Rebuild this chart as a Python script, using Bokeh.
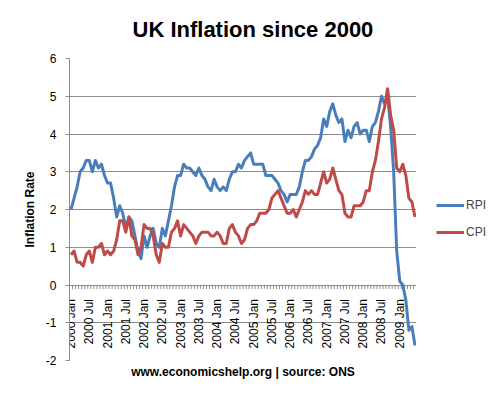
import math
from bokeh.plotting import figure
from bokeh.layouts import row
from bokeh.models import Range1d, FixedTicker, Legend, LegendItem
from bokeh.core.properties import value
from bokeh.embed import file_html
from bokeh.resources import INLINE

# Monthly annual inflation rates, Jan 2000 - Jun 2009
rpi = [2.0, 2.3, 2.6, 3.0, 3.1, 3.3, 3.3, 3.0, 3.3, 3.1, 3.2, 2.9,
       2.7, 2.7, 2.3, 1.8, 2.1, 1.9, 1.5, 1.8, 1.7, 1.3, 0.9, 0.7,
       1.3, 1.0, 1.3, 1.5, 1.1, 1.0, 1.5, 1.3, 1.7, 2.1, 2.6, 2.9,
       2.9, 3.2, 3.1, 3.1, 3.0, 2.9, 3.1, 2.9, 2.8, 2.6, 2.5, 2.8,
       2.6, 2.5, 2.6, 2.5, 2.8, 3.0, 3.0, 3.2, 3.1, 3.3, 3.4, 3.5,
       3.2, 3.2, 3.2, 3.2, 2.9, 2.9, 2.9, 2.8, 2.7, 2.5, 2.4, 2.2,
       2.4, 2.4, 2.4, 2.6, 3.0, 3.3, 3.3, 3.4, 3.6, 3.7, 3.9, 4.4,
       4.2, 4.6, 4.8, 4.5, 4.3, 4.4, 3.8, 4.1, 3.9, 4.2, 4.3, 4.0,
       4.1, 4.1, 3.8, 4.2, 4.3, 4.6, 5.0, 4.8, 5.0, 4.2, 3.0, 0.9,
       0.1, 0.0, -0.4, -1.2, -1.1, -1.6]
cpi = [0.8, 0.9, 0.6, 0.6, 0.5, 0.8, 0.9, 0.6, 1.0, 1.0, 1.1, 0.8,
       0.9, 0.8, 0.9, 1.2, 1.7, 1.7, 1.4, 1.8, 1.3, 1.2, 0.8, 1.0,
       1.6, 1.5, 1.5, 1.3, 0.8, 0.6, 1.1, 1.0, 1.0, 1.4, 1.5, 1.7,
       1.3, 1.6, 1.5, 1.4, 1.3, 1.1, 1.3, 1.4, 1.4, 1.4, 1.3, 1.3,
       1.4, 1.3, 1.1, 1.1, 1.5, 1.6, 1.4, 1.3, 1.1, 1.2, 1.5, 1.6,
       1.6, 1.7, 1.9, 1.9, 1.9, 2.0, 2.3, 2.4, 2.5, 2.3, 2.1, 1.9,
       1.9, 2.0, 1.8, 2.0, 2.2, 2.5, 2.4, 2.5, 2.4, 2.4, 2.7, 3.0,
       2.7, 2.8, 3.1, 2.8, 2.5, 2.4, 1.9, 1.8, 1.8, 2.1, 2.1, 2.1,
       2.2, 2.5, 2.5, 3.0, 3.3, 3.8, 4.4, 4.7, 5.2, 4.5, 4.1, 3.1,
       3.0, 3.2, 2.9, 2.3, 2.2, 1.8]
months = list(range(len(rpi)))
label_idx = list(range(0, 109, 6))
tick_labels = [f"{2000 + i // 12} {'Jan' if i % 12 == 0 else 'Jul'}" for i in label_idx]
y_ticks = [-2, -1, 0, 1, 2, 3, 4, 5, 6]
series_names = ["RPI", "CPI"]
series_values = [rpi, cpi]
series_colors = ["#4a7ebb", "#be4b48"]

FONT = "Liberation Sans"
GRID = "#8c8c8c"

p = figure(width=416, height=388, output_backend="svg", toolbar_location=None,
           x_range=Range1d(-0.5, len(rpi) - 0.5), y_range=Range1d(-2, 6),
           min_border_left=69, min_border_right=0, min_border_top=58, min_border_bottom=28,
           title="UK Inflation since 2000")
p.outline_line_color = None
p.background_fill_color = "white"
p.border_fill_color = "white"

p.title.align = "left"
p.title.vertical_align = "top"
p.title.offset = 63
p.title.text_font = FONT
p.title.text_font_size = "22px"
p.title.text_font_style = "bold"
p.title.text_color = "#000000"
p.title.standoff = 30

# y axis
p.yaxis.ticker = FixedTicker(ticks=y_ticks, minor_ticks=[])
p.yaxis.major_label_overrides = {t: str(t) for t in y_ticks}
p.yaxis.major_tick_out = 4
p.yaxis.major_tick_in = 0
p.yaxis.major_tick_line_color = GRID
p.yaxis.axis_line_color = GRID
p.yaxis.major_label_standoff = 9
p.yaxis.major_label_text_font = FONT
p.yaxis.major_label_text_font_size = "12px"
p.yaxis.major_label_text_color = "#000000"
p.yaxis.axis_label = "Inflation Rate"
p.yaxis.axis_label_text_font = FONT
p.yaxis.axis_label_text_font_size = "12px"
p.yaxis.axis_label_text_font_style = "bold"
p.yaxis.axis_label_text_color = "#000000"
p.yaxis.axis_label_standoff = 6

# x axis: only the title below
p.xaxis.ticker = FixedTicker(ticks=[], minor_ticks=[])
p.xaxis.axis_line_color = None
p.xaxis.major_tick_out = 0
p.xaxis.major_tick_in = 0
p.xaxis.major_label_standoff = 0
p.xaxis.axis_label = "www.economicshelp.org | source: ONS"
p.xaxis.axis_label_text_font = FONT
p.xaxis.axis_label_text_font_size = "12px"
p.xaxis.axis_label_text_font_style = "bold"
p.xaxis.axis_label_text_color = "#000000"
p.xaxis.axis_label_standoff = 4

p.xgrid.visible = False
p.ygrid.ticker = FixedTicker(ticks=y_ticks)
p.ygrid.grid_line_color = GRID
p.ygrid.grid_line_width = 1

# category tick marks on the zero line
bounds = [m - 0.5 for m in months] + [len(rpi) - 0.5]
p.ray(x=bounds, y=[0] * len(bounds), length=4, length_units="screen",
      angle=-math.pi / 2, line_color=GRID, line_width=1)

# category labels hanging from the zero line
p.text(x=label_idx, y=[0] * len(label_idx), text=tick_labels, angle=math.pi / 2,
       text_align="right", text_baseline="middle", y_offset=14,
       text_font=value(FONT), text_font_size="12px", text_color="#000000")

for vals, col in zip(series_values, series_colors):
    p.line(months, vals, line_color=col, line_width=3, line_join="round")

# legend panel to the right of the chart (its own renderers lie outside its view)
q = figure(width=76, height=388, output_backend="svg", toolbar_location=None,
           x_range=Range1d(-20, -10), y_range=Range1d(-20, -10), min_border=0)
q.axis.visible = False
q.grid.visible = False
q.outline_line_color = None
items = []
for name, vals, col in zip(series_names, series_values, series_colors):
    r = q.line(months, vals, line_color=col, line_width=3)
    items.append(LegendItem(label=name, renderers=[r]))
legend = Legend(items=items, location=(20, 118), padding=0, margin=0, spacing=7,
                glyph_width=28, glyph_height=20, label_height=20, label_standoff=2,
                label_text_font=FONT, label_text_font_size="12px",
                border_line_color=None, background_fill_alpha=0)
q.add_layout(legend)

layout = row(p, q)
open("out.html", "w").write(file_html(layout, INLINE))
